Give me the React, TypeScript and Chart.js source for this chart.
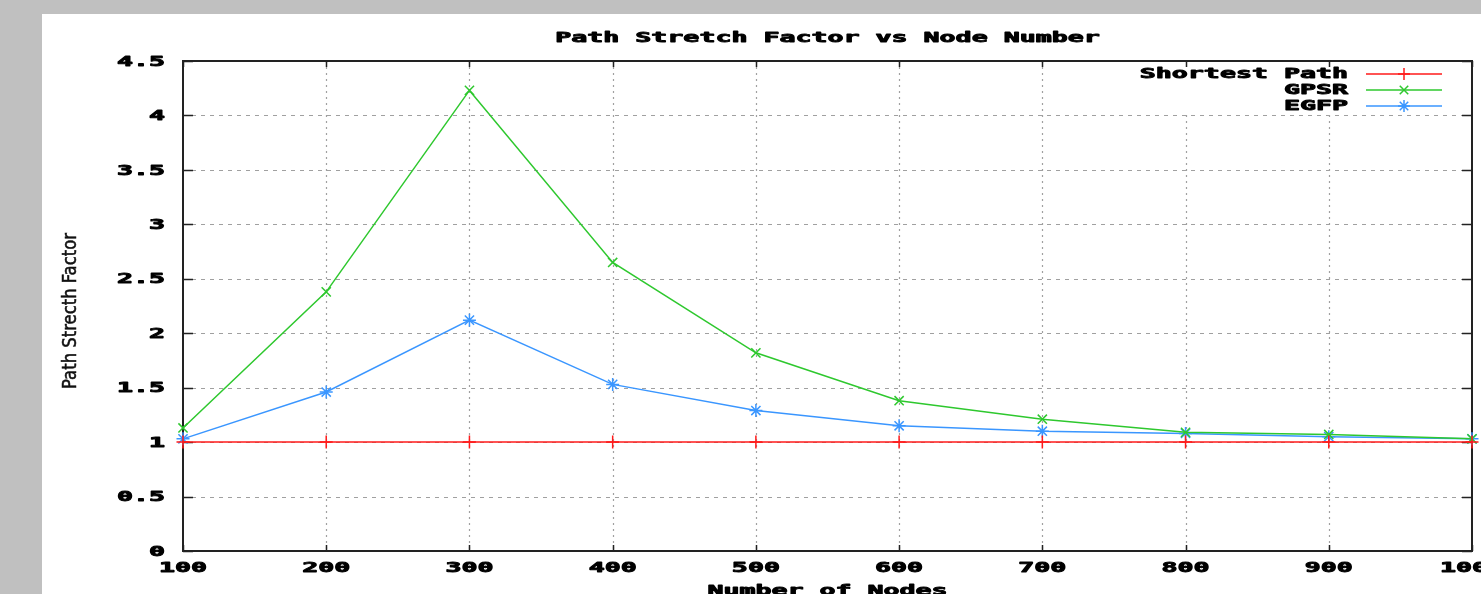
import React, { useEffect, useRef } from "react";
import { Chart, registerables } from "chart.js";

Chart.register(...registerables);

const nodeCounts = [100, 200, 300, 400, 500, 600, 700, 800, 900, 1000];
const shortestPath = [1, 1, 1, 1, 1, 1, 1, 1, 1, 1];
const gpsr = [1.13, 2.38, 4.23, 2.65, 1.82, 1.38, 1.21, 1.09, 1.07, 1.03];
const egfp = [1.03, 1.46, 2.12, 1.53, 1.29, 1.15, 1.1, 1.08, 1.05, 1.03];

const xTickValues = [100, 200, 300, 400, 500, 600, 700, 800, 900, 1000];
const xTickLabels = ["100", "200", "300", "400", "500", "600", "700", "800", "900", "1000"];
const yTickValues = [0, 0.5, 1, 1.5, 2, 2.5, 3, 3.5, 4, 4.5];
const yTickLabels = ["0", "0.5", "1", "1.5", "2", "2.5", "3", "3.5", "4", "4.5"];

const titleText = "Path Stretch Factor vs Node Number";
const xTitleText = "Number of Nodes";
const yTitleText = "Path Strecth Factor";
const seriesNames = ["Shortest Path", "GPSR", "EGFP"];
const seriesColors = ["#ff1a1a", "#2ec82e", "#3a96ff"];
const seriesPointStyles = ["cross", "crossRot", "star"];

const MONO = 'bold 14px "DejaVu Sans Mono", "Liberation Mono", monospace';
const SX = 1.9;

function drawText(ctx: CanvasRenderingContext2D, text: string, x: number, y: number, align: CanvasTextAlign, font = MONO, sx = SX) {
  ctx.save();
  ctx.font = font;
  ctx.fillStyle = "#000";
  ctx.strokeStyle = "#000";
  ctx.lineWidth = 0.9;
  ctx.lineJoin = "round";
  ctx.translate(x, y);
  ctx.scale(sx, 1);
  ctx.textAlign = align;
  ctx.textBaseline = "middle";
  ctx.fillText(text, 0, 0);
  ctx.strokeText(text, 0, 0);
  ctx.restore();
}

function drawMarker(ctx: CanvasRenderingContext2D, style: string, x: number, y: number, r: number) {
  ctx.beginPath();
  if (style === "cross" || style === "star") {
    ctx.moveTo(x, y - r);
    ctx.lineTo(x, y + r);
    ctx.moveTo(x - r, y);
    ctx.lineTo(x + r, y);
  }
  if (style === "crossRot" || style === "star") {
    const d = r * Math.SQRT1_2;
    ctx.moveTo(x - d, y - d);
    ctx.lineTo(x + d, y + d);
    ctx.moveTo(x - d, y + d);
    ctx.lineTo(x + d, y - d);
  }
  ctx.stroke();
}

const paperPlugin = {
  id: "paper",
  beforeDraw(chart: any) {
    const ctx = chart.ctx as CanvasRenderingContext2D;
    ctx.save();
    ctx.fillStyle = "#c0c0c0";
    ctx.fillRect(0, 0, chart.width, chart.height);
    ctx.fillStyle = "#ffffff";
    ctx.fillRect(42, 14, chart.width - 42, chart.height - 14);
    ctx.restore();
  },
  beforeDatasetsDraw(chart: any) {
    const ctx = chart.ctx as CanvasRenderingContext2D;
    const a = chart.chartArea;
    const xs = chart.scales.x;
    const ys = chart.scales.y;
    ctx.save();
    // grid
    ctx.strokeStyle = "#a0a0a0";
    ctx.lineWidth = 1.2;
    ctx.setLineDash([2, 4]);
    xTickValues.forEach((v, i) => {
      if (i === 0 || i === xTickValues.length - 1) return;
      const px = Math.round(xs.getPixelForValue(v)) + 0.5;
      ctx.beginPath();
      ctx.moveTo(px, a.top);
      ctx.lineTo(px, a.bottom);
      ctx.stroke();
    });
    ctx.lineWidth = 1;
    ctx.setLineDash([4, 5]);
    yTickValues.forEach((v, i) => {
      if (i === 0 || i === yTickValues.length - 1) return;
      const py = Math.round(ys.getPixelForValue(v)) + 0.5;
      ctx.beginPath();
      ctx.moveTo(a.left, py);
      ctx.lineTo(a.right, py);
      ctx.stroke();
    });
    ctx.setLineDash([]);
    // legend background (grid not drawn under key)
    ctx.fillStyle = "#ffffff";
    ctx.fillRect(1132, a.top + 1, 326, 52);
    // box
    ctx.strokeStyle = "#222";
    ctx.lineWidth = 2;
    ctx.strokeRect(a.left, a.top, a.right - a.left, a.bottom - a.top);
    // inward ticks
    ctx.lineWidth = 1.5;
    yTickValues.forEach((v) => {
      const py = Math.round(ys.getPixelForValue(v)) + 0.5;
      ctx.beginPath();
      ctx.moveTo(a.left, py);
      ctx.lineTo(a.left + 10, py);
      ctx.moveTo(a.right, py);
      ctx.lineTo(a.right - 10, py);
      ctx.stroke();
    });
    xTickValues.forEach((v) => {
      const px = Math.round(xs.getPixelForValue(v)) + 0.5;
      ctx.beginPath();
      ctx.moveTo(px, a.bottom);
      ctx.lineTo(px, a.bottom - 6);
      ctx.moveTo(px, a.top);
      ctx.lineTo(px, a.top + 6);
      ctx.stroke();
    });
    ctx.restore();
    // tick labels
    yTickValues.forEach((v, i) => {
      drawText(ctx, yTickLabels[i], 165, ys.getPixelForValue(v) + 1, "right");
    });
    xTickValues.forEach((v, i) => {
      drawText(ctx, xTickLabels[i], xs.getPixelForValue(v), 568, "center");
    });
    // titles
    const mid = (a.left + a.right) / 2;
    drawText(ctx, titleText, mid, 38, "center");
    drawText(ctx, xTitleText, mid, 591, "center");
    ctx.save();
    const yFont = '19px "Liberation Sans Narrow", "DejaVu Sans Condensed", "DejaVu Sans", sans-serif';
    ctx.font = yFont;
    const w = ctx.measureText(yTitleText).width;
    const sy = 156 / w;
    ctx.translate(71, 311);
    ctx.rotate(-Math.PI / 2);
    ctx.scale(sy, 1);
    ctx.fillStyle = "#111";
    ctx.strokeStyle = "#111";
    ctx.lineWidth = 0.5;
    ctx.textAlign = "center";
    ctx.textBaseline = "middle";
    ctx.fillText(yTitleText, 0, 0);
    ctx.strokeText(yTitleText, 0, 0);
    ctx.restore();
  },
  afterDatasetsDraw(chart: any) {
    const ctx = chart.ctx as CanvasRenderingContext2D;
    seriesNames.forEach((name, i) => {
      const yy = 74 + i * 16;
      drawText(ctx, name, 1348, yy, "right");
      ctx.save();
      ctx.strokeStyle = seriesColors[i];
      ctx.lineWidth = 1.5;
      ctx.beginPath();
      ctx.moveTo(1366, yy);
      ctx.lineTo(1442, yy);
      ctx.stroke();
      drawMarker(ctx, seriesPointStyles[i], 1404, yy, 6);
      ctx.restore();
    });
  },
};

export default function App() {
  const ref = useRef<HTMLCanvasElement>(null);
  useEffect(() => {
    document.body.style.margin = "0";
    document.body.style.overflow = "hidden";
    const canvas = ref.current;
    if (!canvas) return;
    const series = [shortestPath, gpsr, egfp];
    const chart = new Chart(canvas, {
      type: "line",
      data: {
        datasets: series.map((vals, i) => ({
          label: seriesNames[i],
          data: nodeCounts.map((n, k) => ({ x: n, y: vals[k] })),
          borderColor: seriesColors[i],
          backgroundColor: seriesColors[i],
          borderWidth: 1.5,
          pointStyle: seriesPointStyles[i] as any,
          pointRadius: 6.5,
          pointBorderWidth: 1.5,
          pointBorderColor: seriesColors[i],
          tension: 0,
          fill: false,
          clip: false as any,
        })),
      },
      options: {
        responsive: false,
        animation: false,
        devicePixelRatio: 1,
        layout: { padding: { left: 0, top: 61, right: 9, bottom: 0 } },
        plugins: {
          legend: { display: false },
          title: { display: false },
          tooltip: { enabled: false },
        },
        scales: {
          x: {
            type: "linear",
            min: 100,
            max: 1000,
            grid: { display: false },
            border: { display: false },
            ticks: { display: false, stepSize: 100 },
            afterFit: (s: any) => {
              s.height = 43;
              s.paddingLeft = 0;
              s.paddingRight = 0;
            },
          },
          y: {
            type: "linear",
            min: 0,
            max: 4.5,
            grid: { display: false },
            border: { display: false },
            ticks: { display: false, stepSize: 0.5 },
            afterFit: (s: any) => {
              s.width = 183;
              s.paddingTop = 0;
              s.paddingBottom = 0;
            },
          },
        },
      },
      plugins: [paperPlugin],
    });
    return () => chart.destroy();
  }, []);
  return (
    <div style={{ width: 1481, height: 594, position: "relative" }}>
      <canvas ref={ref} width={1481} height={594} style={{ width: 1481, height: 594, display: "block" }} />
    </div>
  );
}
